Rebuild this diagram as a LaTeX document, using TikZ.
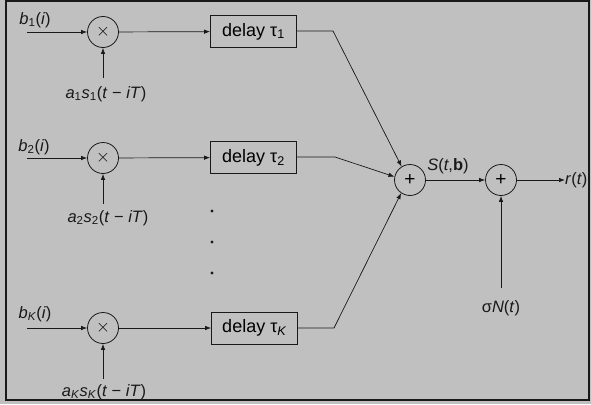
\documentclass[tikz,border=0pt]{standalone}
\usepackage{fontspec}
\setmainfont{Liberation Sans}
\usetikzlibrary{arrows.meta}
\definecolor{bggray}{RGB}{192,192,192}
\definecolor{ink}{RGB}{25,25,25}
\begin{document}
\begin{tikzpicture}[x=1pt,y=-1pt,
  opnode/.style={circle,draw=ink,line width=0.8pt,minimum size=31pt,inner sep=0pt,font=\fontsize{19}{19}\selectfont},
  dbox/.style={draw=ink,line width=0.8pt,minimum width=86pt,minimum height=32pt,inner sep=0pt,font=\fontsize{18}{20}\selectfont},
  lbl/.style={inner sep=0pt,text=ink,font=\fontsize{16.5}{18}\selectfont},
  conn/.style={draw=ink,line width=0.7pt,-{Latex[length=6pt,width=4.5pt]}},
  dotmark/.style={circle,fill=ink,inner sep=0pt,minimum size=3.2pt}]
\useasboundingbox (0,0) rectangle (591,404);
\fill[bggray] (0,0) rectangle (591,404);
\draw[ink,line width=1.2pt] (6,1) rectangle (589,400);

% multipliers
\node[opnode] (m1) at (103,32) {\textsf{×}};
\node[opnode] (m2) at (103,158) {\textsf{×}};
\node[opnode] (mK) at (103,328) {\textsf{×}};

% delays
\node[dbox] (d1) at (253.5,31.5) {delay τ\textsubscript{1}};
\node[dbox] (d2) at (253.5,157.5) {delay τ\textsubscript{2}};
\node[dbox] (dK) at (254.5,328) {delay τ\textsubscript{\textit{K}}};

% summers
\node[opnode] (s1) at (410,180) {+};
\node[opnode] (s2) at (501,180) {+};

% input labels
\node[lbl] (b1) at (35,20) {\textit{b}\textsubscript{1}(\textit{i})};
\node[lbl] (b2) at (34,147) {\textit{b}\textsubscript{2}(\textit{i})};
\node[lbl] (bK) at (35,314) {\textit{b}\textsubscript{\textit{K}}(\textit{i})};
\coordinate (i1) at (27,32);
\coordinate (i2) at (27,158);
\coordinate (iK) at (27,328);

% carrier labels
\node[lbl] (a1) at (106,94) {\textit{a}\textsubscript{1}\textit{s}\textsubscript{1}(\textit{t} − \textit{iT})};
\node[lbl] (a2) at (108,218) {\textit{a}\textsubscript{2}\textit{s}\textsubscript{2}(\textit{t} − \textit{iT})};
\node[lbl] (aK) at (104,392) {\textit{a}\textsubscript{\textit{K}}\textit{s}\textsubscript{\textit{K}}(\textit{t} − \textit{iT})};
\coordinate (c1) at (103,78);
\coordinate (c2) at (103,204);
\coordinate (cK) at (103,379);

% dots
\node[dotmark] (dot1) at (212,211) {};
\node[dotmark] (dot2) at (212,242) {};
\node[dotmark] (dot3) at (212,273) {};

% bends
\coordinate (k1) at (333,31);
\coordinate (k2) at (335,157);
\coordinate (kK) at (334,328);

% output and noise
\node[lbl,anchor=west] (r) at (565,180) {\textit{r}(\textit{t})};
\node[lbl] (Slbl) at (448,166) {\textit{S}(\textit{t},\textbf{b})};
\node[lbl] (noise) at (501,308) {σ\textit{N}(\textit{t})};
\coordinate (n0) at (501,288);

% connectors
\draw[conn] (i1) -- (m1);
\draw[conn] (i2) -- (m2);
\draw[conn] (iK) -- (mK);
\draw[conn] (c1) -- (m1);
\draw[conn] (c2) -- (m2);
\draw[conn] (cK) -- (mK);
\draw[conn] (m1) -- (d1);
\draw[conn] (m2) -- (d2);
\draw[conn] (mK) -- (dK);
\draw[conn] (d1.east |- k1) -- (k1) -- (s1.122);
\draw[conn] (d2.east |- k2) -- (k2) -- (s1.168);
\draw[conn] (dK.east |- kK) -- (kK) -- (s1.236);
\draw[conn] (s1) -- (s2);
\draw[conn] (s2) -- (r);
\draw[conn] (n0) -- (s2);
\end{tikzpicture}
\end{document}
